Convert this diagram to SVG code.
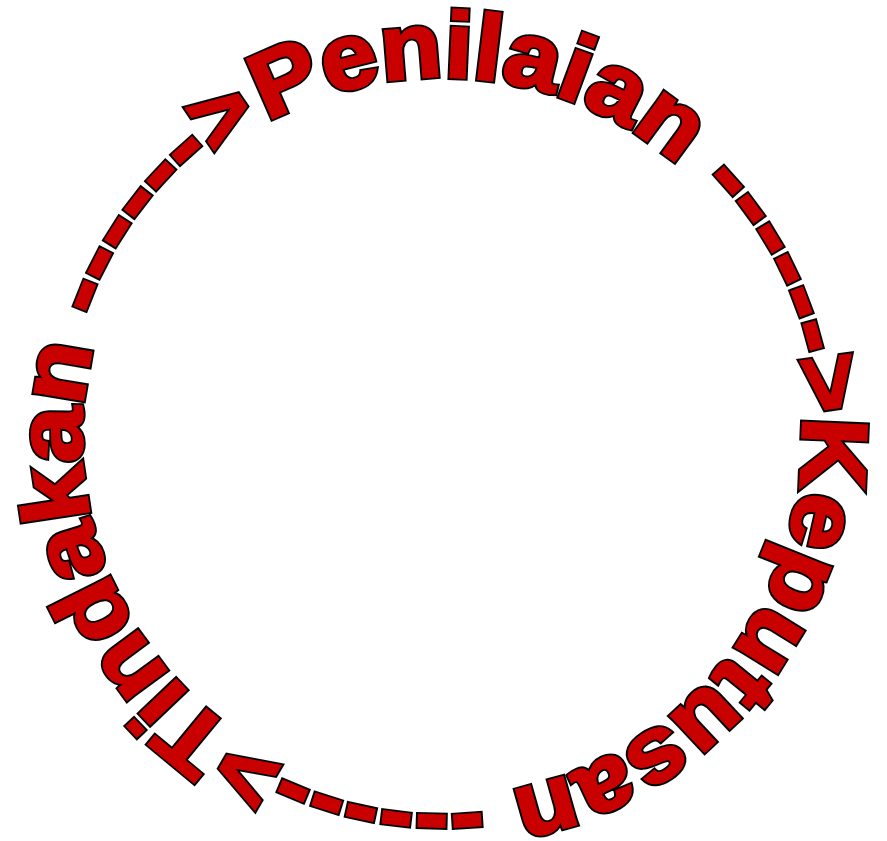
<svg xmlns="http://www.w3.org/2000/svg" xmlns:xlink="http://www.w3.org/1999/xlink" width="887" height="841" viewBox="0 0 887 841">
  <style>
    .arc { font-family: "Liberation Sans", Arial, sans-serif; font-weight: bold; font-size: 93px; }
    .outline { fill: #000000; stroke: #000000; stroke-width: 6; stroke-linejoin: miter; }
    .body { fill: #C80000; stroke: #C80000; stroke-width: 2.4; stroke-linejoin: miter; }
  </style>
  <defs>
    <path id="ring" d="M 267.5 122.1 A 360 360 0 1 1 616.5 751.9 A 360 360 0 1 1 267.5 122.1" fill="none"/>
    <text id="cycle-label" class="arc"><textPath href="#ring" xlink:href="#ring" textLength="2256" lengthAdjust="spacingAndGlyphs">Penilaian ------&gt;Keputusan ------&gt;Tindakan ------&gt;</textPath></text>
  </defs>
  <rect width="887" height="841" fill="#FFFFFF"/>
  <g id="cycle-text">
    <use href="#cycle-label" xlink:href="#cycle-label" class="outline"/>
    <use href="#cycle-label" xlink:href="#cycle-label" class="body"/>
  </g>
</svg>
